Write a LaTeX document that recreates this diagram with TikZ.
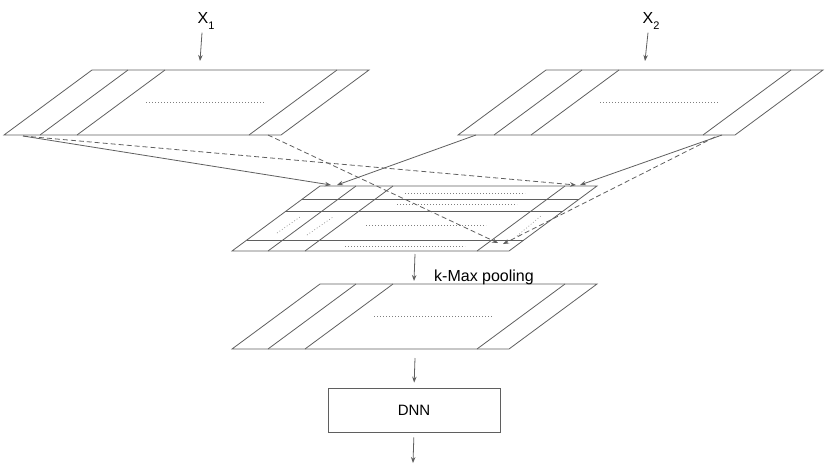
\documentclass[tikz,border=0pt]{standalone}
\usepackage{fontspec}
\setmainfont{Liberation Sans}
\usetikzlibrary{arrows.meta}
\definecolor{linegray}{RGB}{95,95,95}
\tikzset{edge line/.style={draw=linegray,line width=0.8pt},
dots/.style={draw=linegray!80,line width=0.6pt,dash pattern=on 0.8pt off 2.2pt},
link/.style={draw=linegray,line width=0.8pt,-{Stealth[length=6pt,width=4.5pt]}},
dash link/.style={link,dash pattern=on 5pt off 3pt},
label/.style={font=\fontsize{16}{16}\selectfont,inner sep=0pt},
slab frame/.pic={
	\draw[edge line] (0,0) -- (277,0) -- (189,65) -- (-88,65) -- cycle;
	\draw[edge line] (36,0) -- (-52,65) (73,0) -- (-15,65) (245,0) -- (157,65);
},
slab/.pic={
	\pic {slab frame};
	\draw[dots] (54,32) -- (173,32);
},
match grid/.pic={
	\pic {slab frame};
	\foreach \t in {13,25,54}
		\draw[edge line] ({-88*\t/65},\t) -- ({277-88*\t/65},\t);
	\draw[dots] (85,7) -- (205,7) (77,18) -- (197,18) (46,39) -- (166,39) (25,60) -- (145,60);
	\draw[dots] (-43,47) -- (-20,31) (-13,49) -- (13,31) (197,50) -- (222,29);
},
}

\begin{document}
\begin{tikzpicture}[x=1pt,y=-1pt]
	\useasboundingbox (0,0) rectangle (830,467);
	
	\node[label] (x1) at (206,21) {X\raisebox{-6pt}{\fontsize{11}{11}\selectfont 1}};
	\node[label] (x2) at (651,21) {X\raisebox{-6pt}{\fontsize{11}{11}\selectfont 2}};
	
	\pic (in1) at (92,70) {slab};
	\pic (in2) at (546,70) {slab};
	\pic (match) at (320,186) {match grid};
	\pic (pool) at (320,284) {slab};
	
	\node[label,anchor=base west] (kmax) at (434,281) {k-Max pooling};
	\node[draw=linegray,line width=0.8pt,minimum width=172pt,minimum height=44pt,
		font=\fontsize{15}{15}\selectfont] (dnn) at (414,410) {DNN};
	
	% arrow ends
	\coordinate (x1 tip) at (200,61);
	\coordinate (x2 tip) at (645,61);
	\coordinate (in1 left) at (23,136);
	\coordinate (in1 right) at (268,135);
	\coordinate (in2 left) at (476,135);
	\coordinate (in2 right) at (722,135);
	\coordinate (in2 right b) at (715,137);
	\coordinate (m tl1) at (331,185);
	\coordinate (m tl2) at (337,185);
	\coordinate (m tr1) at (576,185);
	\coordinate (m tr2) at (580,185);
	\coordinate (m br1) at (498,243);
	\coordinate (m br2) at (503,244);
	\coordinate (match out) at (415,254);
	\coordinate (pool in) at (414,281);
	\coordinate (pool out) at (415,358);
	\coordinate (out) at (413,463);
	
	\draw[link] ([xshift=-4pt,yshift=-3pt]x1.south) -- (x1 tip);
	\draw[link] ([xshift=-3pt,yshift=-3pt]x2.south) -- (x2 tip);
	\draw[link] (in1 left) -- (m tl1);
	\draw[dash link] (in1 left) -- (m tr1);
	\draw[dash link] (in1 right) -- (m br1);
	\draw[link] (in2 left) -- (m tl2);
	\draw[link] (in2 right) -- (m tr2);
	\draw[dash link] (in2 right b) -- (m br2);
	\draw[link] (match out) -- (pool in);
	\draw[link,shorten >=5pt] (pool out) -- (dnn.north);
	\draw[link,shorten <=5pt] (dnn.south) -- (out);
\end{tikzpicture}
\end{document}
